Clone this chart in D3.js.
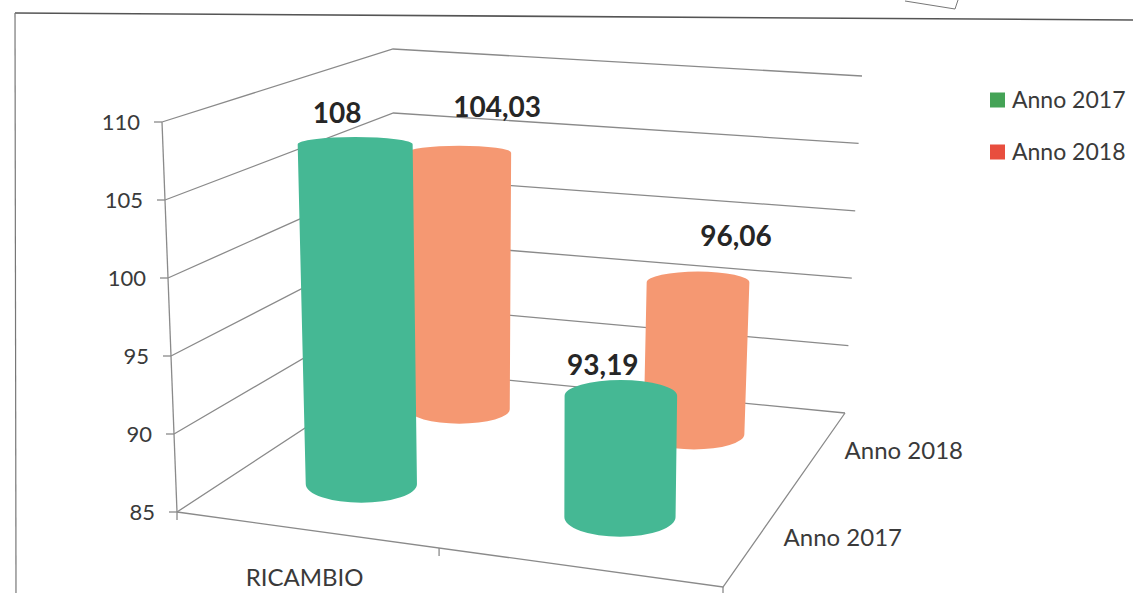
<!DOCTYPE html>
<html>
<head>
<meta charset="utf-8">
<script src="https://cdn.jsdelivr.net/npm/d3@7/dist/d3.min.js"></script>
<style>
  html, body { margin: 0; padding: 0; background: #ffffff; }
  svg { display: block; }
</style>
</head>
<body>
<svg id="chart" width="1133" height="593"></svg>
<script>
// ---------------- data ----------------
const categories = ["RICAMBIO", ""];
const series = ["Anno 2017", "Anno 2018"];
const values2017 = [108, 93.19];
const values2018 = [104.03, 96.06];
const valueDomain = [85, 110];
const tickStep = 5;

// ---------------- styles ----------------
const barColors = { "Anno 2017": "#45b894", "Anno 2018": "#f59872" };
const legendColors = { "Anno 2017": "#44a356", "Anno 2018": "#e84e3e" };
const labelOffset = { "Anno 2017": [-18, -21], "Anno 2018": [38, -36] };
const gridColor = "#8a8a8a";
const textColor = "#3a3a3a";
const fontFamily = "Lato, 'Open Sans', sans-serif";

// ---------------- 3D frame (screen corners of the plot box) ----------------
// f/b = front/back (depth), l/r = left/right, b/t = bottom/top
const corners = {
  flb: [177, 512], flt: [162, 122],
  blb: [395, 369], blt: [393, 49],
  brb: [845, 413], brt: [862, 76],
  frb: [723, 587], frt: [727, 202]
};
function lerp(a, b, t) { return [a[0] + (b[0] - a[0]) * t, a[1] + (b[1] - a[1]) * t]; }
function proj(u, v, w) {
  const fb = lerp(lerp(corners.flb, corners.frb, u), lerp(corners.blb, corners.brb, u), v);
  const ft = lerp(lerp(corners.flt, corners.frt, u), lerp(corners.blt, corners.brt, u), v);
  return lerp(fb, ft, w);
}

// ---------------- scales ----------------
const x = d3.scaleBand().domain(categories).range([-0.02, 0.98]).paddingInner(0.57).paddingOuter(0.285);
const z = d3.scalePoint().domain(series).range([0.3, 0.8]);
const y = d3.scaleLinear().domain(valueDomain).range([0, 1]);
const ticks = d3.range(valueDomain[0], valueDomain[1] + tickStep / 2, tickStep);

const locale = d3.formatLocale({ decimal: ",", thousands: ".", grouping: [3], currency: ["", "€"] });
const fmt = v => Number.isInteger(v) ? locale.format("d")(v) : locale.format(".2f")(v);

const svg = d3.select("#chart");

// ---------------- page frame (scan border) ----------------
svg.append("line").attr("x1", 15).attr("y1", 13).attr("x2", 1133).attr("y2", 20)
  .attr("stroke", "#555").attr("stroke-width", 1.6);
svg.append("line").attr("x1", 15).attr("y1", 13).attr("x2", 16).attr("y2", 593)
  .attr("stroke", "#777").attr("stroke-width", 1.2);
svg.append("path").attr("d", "M905,1 L955,9 L958,0").attr("fill", "none").attr("stroke", "#777").attr("stroke-width", 1);

// ---------------- walls & grid ----------------
const grid = svg.append("g").attr("fill", "none").attr("stroke", gridColor).attr("stroke-width", 1.3);
const line = d3.line();
ticks.forEach(t => {
  const w = y(t);
  grid.append("path").attr("d", line([proj(0, 0, w), proj(0, 1, w), proj(1, 1, w)]));
});
// front vertical axis
grid.append("path").attr("d", line([proj(0, 0, 0), proj(0, 0, 1)]));
// floor front & right edges
grid.append("path").attr("d", line([proj(0, 0, 0), proj(1, 0, 0), proj(1, 1, 0)]));

// value ticks + labels
ticks.forEach(t => {
  const p = proj(0, 0, y(t));
  grid.append("line").attr("x1", p[0] - 8).attr("y1", p[1]).attr("x2", p[0]).attr("y2", p[1]);
  svg.append("text").attr("x", p[0] - 22).attr("y", p[1]).attr("dy", "0.35em")
    .attr("text-anchor", "end").attr("font-family", fontFamily).attr("font-size", 22)
    .attr("fill", textColor).text(t);
});

// category ticks
const catBounds = [0, ...categories.slice(1).map(c => x(c) - x.step() * x.paddingInner() / 2), 1];
catBounds.forEach(u => {
  const p = proj(u, 0, 0);
  grid.append("line").attr("x1", p[0]).attr("y1", p[1]).attr("x2", p[0]).attr("y2", p[1] + 8);
});

// category labels
categories.forEach(c => {
  const p = proj(x(c) + x.bandwidth() / 2, 0, 0);
  svg.append("text").attr("x", p[0] + 2).attr("y", p[1] + 57)
    .attr("text-anchor", "middle").attr("font-family", fontFamily).attr("font-size", 24)
    .attr("fill", textColor).text(c);
});

// depth (series) labels
series.forEach(s => {
  const p = proj(1, z(s), 0);
  svg.append("text").attr("x", p[0] + 24).attr("y", p[1] + 3).attr("dy", "0.35em")
    .attr("font-family", fontFamily).attr("font-size", 24)
    .attr("fill", textColor).text(s);
});

// ---------------- cylinders ----------------
const bars = [];
series.slice().reverse().forEach(s => {
  const vals = s === "Anno 2017" ? values2017 : values2018;
  categories.forEach((c, i) => bars.push({ s, c, value: vals[i] }));
});

function ryFor(rx, cy) { return rx * Math.max(0.1, 0.12 + 0.0006 * (cy - 130)); }

const barG = svg.append("g");
bars.forEach(d => {
  const u0 = x(d.c), u1 = x(d.c) + x.bandwidth(), uc = (u0 + u1) / 2;
  const v = z(d.s);
  const wt = y(d.value);
  const bl = proj(u0, v, 0), br = proj(u1, v, 0), bc = proj(uc, v, 0);
  const tl = proj(u0, v, wt), tr = proj(u1, v, wt), tc = proj(uc, v, wt);
  const rxb = (br[0] - bl[0]) / 2, rxt = (tr[0] - tl[0]) / 2;
  const ryb = ryFor(rxb, bc[1]), ryt = ryFor(rxt, tc[1]);
  const path = `M${tc[0] - rxt},${tc[1]} L${bc[0] - rxb},${bc[1]} ` +
    `A${rxb},${ryb} 0 0 0 ${bc[0] + rxb},${bc[1]} ` +
    `L${tc[0] + rxt},${tc[1]} A${rxt},${ryt} 0 0 0 ${tc[0] - rxt},${tc[1]} Z`;
  barG.append("path").attr("d", path).attr("fill", barColors[d.s]);
  d.top = [tc[0], tc[1]];
});

// data labels
bars.forEach(d => {
  const o = labelOffset[d.s];
  svg.append("text").attr("x", d.top[0] + o[0]).attr("y", d.top[1] + o[1])
    .attr("text-anchor", "middle").attr("font-family", fontFamily).attr("font-weight", 700)
    .attr("font-size", 28).attr("fill", "#262626").text(fmt(d.value));
});

// ---------------- legend ----------------
const legend = svg.append("g");
series.forEach((s, i) => {
  const yy = 100 + i * 52;
  legend.append("rect").attr("x", 990).attr("y", yy - 7.5).attr("width", 15).attr("height", 15)
    .attr("fill", legendColors[s]);
  legend.append("text").attr("x", 1012).attr("y", yy).attr("dy", "0.35em")
    .attr("font-family", fontFamily).attr("font-size", 23).attr("fill", textColor).text(s);
});
</script>
</body>
</html>
